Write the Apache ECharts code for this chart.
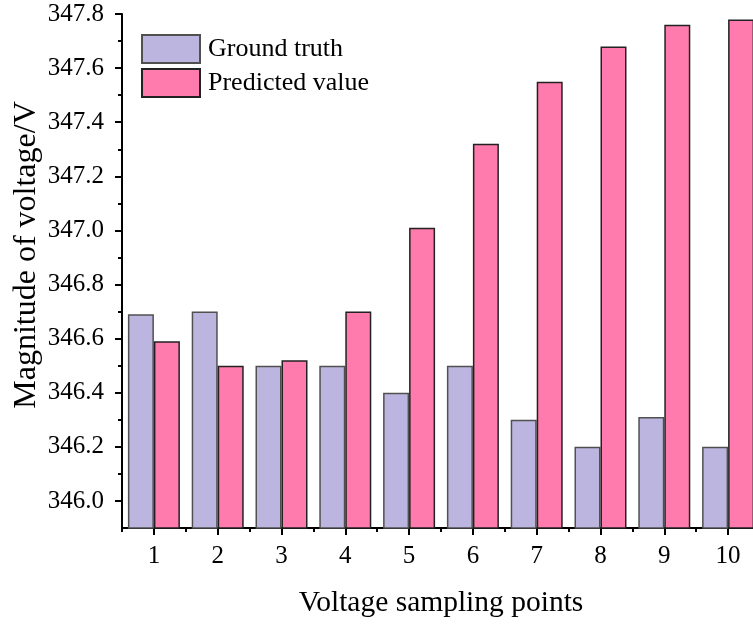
<!DOCTYPE html>
<html>
<head>
<meta charset="utf-8">
<script src="https://cdn.jsdelivr.net/npm/echarts@6/dist/echarts.min.js"></script>
<style>html,body{margin:0;padding:0;background:#fff}#c{width:753px;height:624px}</style>
</head>
<body>
<div id="c"></div>
<script>
var categories = ['1','2','3','4','5','6','7','8','9','10'];
var groundTruth = [346.69, 346.70, 346.50, 346.50, 346.40, 346.50, 346.30, 346.20, 346.31, 346.20];
var predicted = [346.59, 346.50, 346.52, 346.70, 347.01, 347.32, 347.55, 347.68, 347.76, 347.78];
var yTicks = [346.0, 346.2, 346.4, 346.6, 346.8, 347.0, 347.2, 347.4, 347.6, 347.8];
var yMinorTicks = [346.1, 346.3, 346.5, 346.7, 346.9, 347.1, 347.3, 347.5, 347.7];
var seriesNames = ['Ground truth', 'Predicted value'];
var xTitle = 'Voltage sampling points';
var yTitle = 'Magnitude of voltage/V';

var FONT = '"Liberation Serif", "Times New Roman", serif';
var chart = echarts.init(document.getElementById('c'), null, {renderer: 'canvas'});
var axisLine = {show: true, lineStyle: {color: '#000', width: 2}};
chart.setOption({
  animation: false,
  backgroundColor: '#fff',
  grid: {left: 122, top: 14, width: 638, height: 514, containLabel: false, outerBoundsMode: 'none'},
  legend: {
    orient: 'vertical', left: 141, top: 34, padding: 0, itemWidth: 58, itemHeight: 28, itemGap: 4,
    icon: 'rect',
    textStyle: {fontFamily: FONT, fontSize: 26, color: '#000', padding: [0, 0, 0, 3]},
    data: seriesNames
  },
  xAxis: [{
    type: 'category', data: categories, position: 'bottom',
    axisLine: axisLine,
    axisTick: {show: true, alignWithLabel: true, length: 7, lineStyle: {color: '#000', width: 2}},
    axisLabel: {fontFamily: FONT, fontSize: 25, color: '#000', margin: 16},
    name: xTitle, nameLocation: 'middle', nameGap: 60,
    nameTextStyle: {fontFamily: FONT, fontSize: 29.5, color: '#000'},
    splitLine: {show: false}
  }, {
    type: 'category', data: categories, position: 'bottom',
    axisLine: {show: false},
    axisTick: {show: true, length: 4, lineStyle: {color: '#000', width: 2}},
    axisLabel: {show: false},
    splitLine: {show: false}
  }],
  yAxis: [{
    type: 'value', min: 345.9, max: 347.8,
    axisLine: axisLine,
    axisTick: {show: true, length: 7, customValues: yTicks, lineStyle: {color: '#000', width: 2}},
    axisLabel: {fontFamily: FONT, fontSize: 25, color: '#000', margin: 18, customValues: yTicks,
      formatter: function (v) { return v.toFixed(1); }},
    splitLine: {show: false}
  }, {
    type: 'value', min: 345.9, max: 347.8, position: 'left',
    axisLine: {show: false},
    axisTick: {show: true, length: 4, customValues: yMinorTicks, lineStyle: {color: '#000', width: 2}},
    axisLabel: {show: false},
    splitLine: {show: false}
  }],
  graphic: [{
    type: 'text', x: 27, y: 255, rotation: Math.PI / 2,
    style: {text: yTitle, font: '32px ' + FONT, fill: '#000', align: 'center', verticalAlign: 'middle'}
  }],
  series: [{
    name: seriesNames[0], type: 'bar', data: groundTruth, xAxisIndex: 0, yAxisIndex: 0,
    barWidth: 26, barGap: '0%',
    itemStyle: {color: '#bcb5e0', borderColor: '#505050', borderWidth: 1.5}
  }, {
    name: seriesNames[1], type: 'bar', data: predicted, xAxisIndex: 0, yAxisIndex: 0,
    barWidth: 26, barGap: '0%',
    itemStyle: {color: '#ff7bad', borderColor: '#222', borderWidth: 1.5}
  }]
});
</script>
</body>
</html>
